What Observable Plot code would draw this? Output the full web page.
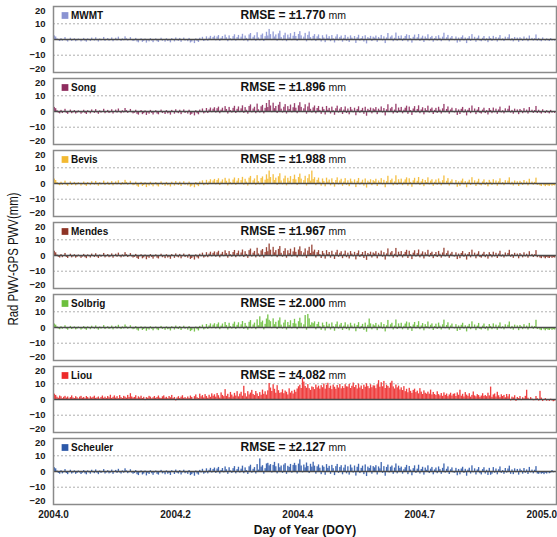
<!DOCTYPE html>
<html><head><meta charset="utf-8">
<script src="https://cdn.jsdelivr.net/npm/d3@7"></script>
<script src="https://cdn.jsdelivr.net/npm/@observablehq/plot@0.6"></script>
<style>body{margin:0;background:#fff;}</style>
</head><body><div id="chart"></div>
<script>
const stations = ["MWMT","Song","Bevis","Mendes","Solbrig","Liou","Scheuler"];
const colors = ["#8a93d2","#8e2c5e","#f3b931","#8e3426","#6cbf3d","#ed2a2a","#2c58a8"];
const rmse = ["±1.770","±1.896","±1.988","±1.967","±2.000","±4.082","±2.127"];
const yTicksMid = [-10,0,10];
const yTickTop = [20];
const yTickBottom = [-20];
const yGrid = [-10,10];
const xTicks = [0, 91.5, 183, 274.5, 366];
const xTickLabels = ["2004.0","2004.2","2004.4","2004.7","2005.0"];
// daily values, DOY 1..376
const mwmt = [
2.3,1.6,0.4,-0.8,-1.3,0.6,-1.1,-0.5,1.2,-0.9,-1.6,-0.4,0.8,-1.2,-0.7,0.5,-1.4,-0.9,0.3,-0.6,
-1.5,-0.8,0.7,-1.1,-1.7,0.4,-0.6,-1.3,0.9,-0.5,-1.0,1.1,-0.8,-1.6,0.3,-0.9,-0.4,1.3,-1.2,-0.6,
0.6,-1.1,-0.7,1.0,-1.4,-0.3,0.8,-0.9,1.5,-0.6,-1.2,0.4,-0.8,1.7,0.5,-1.0,-0.5,1.2,-0.7,-1.3,
-0.9,0.7,-1.6,-2.1,-0.6,0.5,-1.8,-1.2,0.3,-2.3,-0.8,-1.5,0.6,-1.0,-2.0,-0.7,0.4,-1.4,-1.9,-0.5,
0.8,-1.1,-0.6,-1.7,0.5,-1.3,-0.9,-2.1,0.6,-0.4,-1.5,1.0,-0.8,-1.2,0.7,-1.8,-0.6,0.9,-1.0,-0.5,
-1.4,0.7,-2.2,-1.6,-0.7,-2.6,0.4,-1.2,-1.9,0.8,-0.6,1.4,-1.3,-0.8,1.7,-1.1,0.9,2.0,-0.7,1.3,
2.1,-0.9,1.6,2.5,-1.2,0.8,1.9,-0.6,2.8,1.1,-1.4,2.3,0.5,-0.9,1.8,3.0,-1.1,1.2,2.6,-0.7,
1.5,3.3,-1.0,2.2,0.7,-1.5,2.9,3.8,-0.8,1.4,2.4,-1.2,4.3,1.0,-0.9,2.7,3.5,-1.3,1.8,4.6,
2.2,6.4,3.1,-0.7,4.8,1.6,2.9,-1.1,3.6,5.3,1.3,-0.9,2.4,4.0,-1.4,2.8,1.1,3.7,-0.8,2.1,
4.5,1.9,-1.2,3.2,5.0,2.3,-0.6,1.5,3.9,-1.5,2.6,4.8,1.2,-0.9,2.0,3.1,-1.3,1.7,2.9,0.6,
-1.6,2.4,1.0,-2.0,2.9,0.7,1.8,-1.4,2.5,0.4,-2.2,1.6,3.0,-0.9,1.3,2.2,-1.7,0.8,2.6,-1.1,
1.4,-1.9,2.3,0.9,-0.7,1.9,-2.5,1.1,2.7,-1.0,0.6,1.8,-1.6,2.4,-2.8,1.2,0.5,2.0,-1.3,1.5,
0.9,2.2,-1.8,1.3,0.4,2.6,-0.9,1.7,-2.6,1.0,3.8,-0.6,1.5,2.3,-1.4,0.8,4.1,-1.1,2.0,0.6,
2.3,-1.3,0.7,1.9,3.0,-1.6,2.5,0.5,-2.3,1.4,2.8,-0.8,1.1,3.2,-1.2,0.9,2.1,-1.9,1.6,0.4,
3.0,-0.9,1.2,2.0,-1.7,0.6,1.8,-1.0,2.4,0.8,-1.4,1.5,4.0,-0.7,1.1,2.6,-1.5,0.9,1.9,-0.6,
-0.8,1.6,-2.3,0.9,-1.7,1.2,2.3,-0.9,1.0,-2.6,0.7,1.8,-1.2,3.1,-0.5,1.4,-1.8,0.8,2.2,-1.0,
-1.4,0.8,1.9,-1.1,0.5,-2.0,1.7,0.6,-1.2,2.0,-0.7,1.3,-1.6,0.9,2.5,-0.8,0.4,-1.3,1.5,-0.6,
1.2,3.0,-0.9,0.6,-1.5,1.3,-0.4,0.9,-1.8,1.1,0.3,-1.2,1.6,-0.7,0.8,-1.4,2.2,-0.5,0.7,-1.0,
0.5,2.9,-1.1,0.7,-0.9,-1.4,1.0,-0.6,-1.1,0.4,-0.8,-1.3,0.6,-0.9,-0.5,-1.0];
const song = [
2.6,1.8,0.5,-1.0,-1.5,0.7,-1.3,-0.6,1.4,-1.1,-1.8,-0.5,0.9,-1.4,-0.8,0.6,-1.6,-1.0,0.4,-0.7,
-1.7,-0.9,0.8,-1.3,-1.9,0.5,-0.7,-1.5,1.0,-0.6,-1.2,1.2,-0.9,-1.8,0.4,-1.0,-0.5,1.4,-1.4,-0.7,
0.7,-1.3,-0.8,1.1,-1.6,-0.4,0.9,-1.0,1.6,-0.7,-1.4,0.5,-0.9,1.9,0.6,-1.2,-0.6,1.3,-0.8,-1.5,
-1.1,0.8,-1.8,-2.3,-0.7,0.6,-2.0,-1.4,0.4,-2.5,-0.9,-1.7,0.7,-1.2,-2.2,-0.8,0.5,-1.6,-2.1,-0.6,
0.9,-1.3,-0.7,-1.9,0.6,-1.5,-1.0,-2.3,0.7,-0.5,-1.7,1.1,-0.9,-1.4,0.8,-2.0,-0.7,1.0,-1.2,-0.6,
-1.6,0.8,-2.4,-1.8,-0.8,-2.8,0.5,-1.4,-2.1,0.9,-0.7,1.6,-1.5,-0.9,1.9,-1.3,1.0,2.2,-0.8,1.5,
2.4,-1.0,1.8,2.8,-1.4,0.9,2.1,-0.7,3.1,1.3,-1.6,2.6,0.6,-1.0,2.0,3.3,-1.3,1.4,2.9,-0.8,
1.7,3.6,-1.2,2.5,0.8,-1.7,3.2,4.2,-0.9,1.6,2.7,-1.4,4.7,1.1,-1.0,3.0,3.9,-1.5,2.0,5.1,
2.5,7.0,3.5,-0.8,5.3,1.8,3.2,-1.3,4.0,5.8,1.5,-1.0,2.7,4.4,-1.6,3.1,1.3,4.1,-0.9,2.4,
5.0,2.1,-1.4,3.6,5.6,2.6,-0.7,1.7,4.3,-1.7,2.9,5.3,1.4,-1.0,2.3,3.5,-1.5,1.9,3.2,0.7,
-1.8,2.7,1.2,-2.2,3.2,0.8,2.0,-1.6,2.8,0.5,-2.4,1.8,3.4,-1.0,1.5,2.5,-1.9,0.9,2.9,-1.3,
1.6,-2.1,2.6,1.0,-0.8,2.1,-2.7,1.3,3.0,-1.1,0.7,2.0,-1.8,2.7,-3.0,1.4,0.6,2.2,-1.5,1.7,
1.0,2.5,-2.0,1.5,0.5,2.9,-1.0,1.9,-2.8,1.1,4.3,-0.7,1.7,2.6,-1.6,0.9,4.6,-1.3,2.2,0.7,
2.6,-1.5,0.8,2.1,3.4,-1.8,2.8,0.6,-2.5,1.6,3.1,-0.9,1.3,3.6,-1.4,1.0,2.4,-2.1,1.8,0.5,
3.4,-1.0,1.4,2.2,-1.9,0.7,2.0,-1.2,2.7,0.9,-1.6,1.7,4.5,-0.8,1.3,2.9,-1.7,1.0,2.1,-0.7,
-0.9,1.8,-2.5,1.0,-1.9,1.4,2.6,-1.0,1.1,-2.8,0.8,2.0,-1.4,3.5,-0.6,1.6,-2.0,0.9,2.5,-1.2,
-1.6,0.9,2.1,-1.3,0.6,-2.2,1.9,0.7,-1.4,2.2,-0.8,1.5,-1.8,1.0,2.8,-0.9,0.5,-1.5,1.7,-0.7,
1.4,3.4,-1.0,0.7,-1.7,1.5,-0.5,1.0,-2.0,1.3,0.4,-1.4,1.8,-0.8,0.9,-1.6,2.5,-0.6,0.8,-1.2,
0.6,3.2,-1.3,0.8,-1.0,-1.6,1.1,-0.7,-1.3,0.5,-0.9,-1.5,0.7,-1.0,-0.6,-1.2];
const bevis = [
2.8,1.9,0.6,-0.9,-1.4,0.8,-1.2,-0.5,1.5,-1.0,-1.7,-0.4,1.0,-1.3,-0.7,0.7,-1.5,-0.9,0.5,-0.6,
-1.6,-0.8,0.9,-1.2,-1.8,0.6,-0.6,-1.4,1.1,-0.5,-1.1,1.3,-0.8,-1.7,0.5,-0.9,-0.4,1.5,-1.3,-0.6,
0.8,-1.2,-0.7,1.2,-1.5,-0.3,1.0,-0.9,1.7,-0.6,-1.3,0.6,-0.8,2.0,0.7,-1.1,-0.5,1.4,-0.7,-1.4,
-1.0,0.9,-1.7,-2.4,-0.6,0.7,-1.9,-1.3,0.5,-2.6,-0.8,-1.6,0.8,-1.1,-2.1,-0.7,0.6,-1.5,-2.2,-0.5,
1.0,-1.2,-0.6,-1.8,0.7,-1.4,-0.9,-2.2,0.8,-0.4,-1.6,1.2,-0.8,-1.3,0.9,-1.9,-0.6,1.1,-1.1,-0.5,
-1.5,0.9,-2.3,-1.7,-0.7,-2.7,0.6,-1.3,-2.0,1.0,-0.6,1.7,-1.4,-0.8,2.0,-1.2,1.1,2.4,-0.7,1.6,
2.6,-0.9,1.9,3.0,-1.3,1.0,2.3,-0.6,3.3,1.4,-1.5,2.8,0.7,-0.9,2.2,3.5,-1.2,1.5,3.1,-0.7,
1.8,3.9,-1.1,2.7,0.9,-1.6,3.4,4.5,-0.8,1.7,2.9,-1.3,5.0,1.2,-0.9,3.2,4.2,-1.4,2.1,5.5,
2.7,7.9,3.8,-0.7,5.6,1.9,3.4,-1.2,4.3,6.2,1.6,-0.9,2.9,4.7,-1.5,3.3,1.4,4.4,-0.8,2.6,
5.3,2.3,-1.3,3.8,6.0,2.8,-0.6,1.8,4.6,-1.6,3.1,5.6,1.5,7.9,2.5,3.7,-1.4,2.0,3.4,0.8,
-1.7,2.9,1.3,-2.1,3.4,0.9,2.2,-1.5,3.0,0.6,-2.3,1.9,3.6,-0.9,1.6,2.7,-1.8,1.0,3.1,-1.2,
1.7,-2.0,2.8,1.1,-0.7,2.3,-2.6,1.4,3.2,-1.0,0.8,2.1,-1.7,2.9,-2.9,1.5,0.7,2.4,-1.4,1.8,
1.1,2.7,-1.9,1.6,0.6,3.1,-0.9,2.0,-2.7,1.2,4.6,-0.6,1.8,2.8,-1.5,1.0,4.9,-1.2,2.4,0.8,
2.8,-1.4,0.9,2.3,3.6,-1.7,3.0,0.7,-2.4,1.7,3.3,-0.8,1.4,3.8,-1.3,1.1,2.6,-2.0,1.9,0.6,
3.6,-0.9,1.5,2.4,-1.8,0.8,2.2,-1.1,2.9,1.0,-1.5,1.8,4.8,-0.7,1.4,3.1,-1.6,1.1,2.3,-0.6,
-0.8,1.9,-2.4,1.1,-1.8,1.5,2.8,-0.9,1.2,-2.7,0.9,2.1,-1.3,3.7,-0.5,1.7,-1.9,1.0,2.7,-1.1,
-1.5,1.0,2.3,-1.2,0.7,-2.1,2.0,0.8,-1.3,2.4,-0.7,1.6,-1.7,1.1,3.0,-0.8,0.6,-1.4,1.8,-0.6,
1.5,3.6,-0.9,0.8,-1.6,1.6,-0.4,1.1,-1.9,1.4,0.5,-1.3,1.9,-0.7,1.0,-1.5,2.7,-0.5,0.9,-1.1,
0.7,3.4,-1.2,-0.8,-1.5,-1.9,-0.6,-1.4,-2.0,-1.1,-1.6,-1.8,-0.9,-1.7,-1.3,-1.5];
const mendes = [
2.7,1.7,0.3,-1.1,-1.6,0.6,-1.4,-0.7,1.3,-1.2,-1.9,-0.6,0.8,-1.5,-0.9,0.5,-1.7,-1.1,0.3,-0.8,
-1.8,-1.0,0.7,-1.4,-2.0,0.4,-0.8,-1.6,0.9,-0.7,-1.3,1.1,-1.0,-1.9,0.3,-1.1,-0.6,1.3,-1.5,-0.8,
0.6,-1.4,-0.9,1.0,-1.7,-0.5,0.8,-1.1,1.5,-0.8,-1.5,0.4,-1.0,1.8,0.5,-1.3,-0.7,1.2,-0.9,-1.6,
-1.2,0.7,-1.9,-2.5,-0.8,0.5,-2.1,-1.5,0.3,-2.7,-1.0,-1.8,0.6,-1.3,-2.3,-0.9,0.4,-1.7,-2.2,-0.7,
0.8,-1.4,-0.8,-2.0,0.5,-1.6,-1.1,-2.4,0.6,-0.6,-1.8,1.0,-1.0,-1.5,0.7,-2.1,-0.8,0.9,-1.3,-0.7,
-1.7,0.7,-2.5,-1.9,-0.9,-2.9,0.4,-1.5,-2.2,0.8,-0.8,1.5,-1.6,-1.0,1.8,-1.4,0.9,2.1,-0.9,1.4,
2.3,-1.1,1.7,2.7,-1.5,0.8,2.0,-0.8,3.0,1.2,-1.7,2.5,0.5,-1.1,1.9,3.2,-1.4,1.3,2.8,-0.9,
1.6,3.5,-1.3,2.4,0.7,-1.8,3.1,4.1,-1.0,1.5,2.6,-1.5,4.6,1.0,-1.1,2.9,3.8,-1.6,1.9,5.0,
2.4,7.3,3.4,-0.9,5.2,1.7,3.1,-1.4,3.9,5.7,1.4,-1.1,2.6,4.3,-1.7,3.0,1.2,4.0,-1.0,2.3,
4.9,2.0,-1.5,3.5,5.5,2.5,-0.8,1.6,4.2,-1.8,2.8,5.2,1.3,6.6,2.2,3.4,-1.6,1.8,3.1,0.6,
-1.9,2.6,1.1,-2.3,3.1,0.7,1.9,-1.7,2.7,0.4,-2.5,1.7,3.3,-1.1,1.4,2.4,-2.0,0.8,2.8,-1.4,
1.5,-2.2,2.5,0.9,-0.9,2.0,-2.8,1.2,2.9,-1.2,0.6,1.9,-1.9,2.6,-3.1,1.3,0.5,2.1,-1.6,1.6,
0.9,2.4,-2.1,1.4,0.4,2.8,-1.1,1.8,-2.9,1.0,4.2,-0.8,1.6,2.5,-1.7,0.8,4.5,-1.4,2.1,0.6,
2.5,-1.6,0.7,2.0,3.3,-1.9,2.7,0.5,-2.6,1.5,3.0,-1.0,1.2,3.5,-1.5,0.9,2.3,-2.2,1.7,0.4,
3.3,-1.1,1.3,2.1,-2.0,0.6,1.9,-1.3,2.6,0.8,-1.7,1.6,4.6,-0.9,1.2,2.8,-1.8,0.9,2.0,-0.8,
-1.0,1.7,-2.6,0.9,-2.0,1.3,2.5,-1.1,1.0,-2.9,0.7,1.9,-1.5,3.4,-0.7,1.5,-2.1,0.8,2.4,-1.3,
-1.7,0.8,2.0,-1.4,0.5,-2.3,1.8,0.6,-1.5,2.1,-0.9,1.4,-1.9,0.9,2.7,-1.0,0.4,-1.6,1.6,-0.8,
1.3,3.3,-1.1,0.6,-1.8,1.4,-0.6,0.9,-2.1,1.2,0.3,-1.5,1.7,-0.9,0.8,-1.7,2.4,-0.7,0.7,-1.3,
0.5,3.1,-1.4,-0.7,-1.6,-2.0,-0.8,-1.5,-2.1,-1.2,-1.7,-1.9,-1.0,-1.8,-1.4,-1.6];
const solbrig = [
2.2,1.5,0.4,-0.9,-1.4,0.5,-1.1,-0.6,1.1,-1.0,-1.7,-0.5,0.7,-1.3,-0.8,0.4,-1.5,-1.0,0.3,-0.7,
-1.6,-0.9,0.6,-1.2,-1.8,0.4,-0.7,-1.4,0.8,-0.6,-1.1,1.0,-0.9,-1.7,0.3,-1.0,-0.5,1.2,-1.3,-0.7,
0.5,-1.2,-0.8,0.9,-1.5,-0.4,0.7,-1.0,1.4,-0.7,-1.3,0.4,-0.9,1.6,0.4,-1.1,-0.6,1.1,-0.8,-1.4,
-1.0,0.6,-1.7,-2.3,-0.7,0.4,-1.9,-1.3,0.3,-2.4,-0.9,-1.6,0.5,-1.1,-2.1,-0.8,0.3,-1.5,-2.0,-0.6,
0.7,-1.2,-0.7,-1.8,0.4,-1.4,-1.0,-2.2,0.5,-0.5,-1.6,0.9,-0.9,-1.3,0.6,-1.9,-0.7,0.8,-1.1,-0.6,
-1.7,0.6,-2.6,-2.0,-0.8,-2.9,0.3,-1.4,-2.2,0.7,-0.7,1.5,-1.5,-0.9,1.9,-1.2,1.0,2.3,-0.8,1.5,
2.4,-1.0,1.8,2.9,-1.4,0.9,2.2,-0.7,3.2,1.3,-1.6,2.7,0.6,-1.0,2.1,3.4,-1.3,1.4,3.0,-0.8,
1.7,3.8,-1.2,2.6,0.8,-1.7,3.3,4.4,-0.9,1.6,2.8,-1.4,4.9,1.1,6.8,3.1,4.1,-1.5,2.0,5.4,
8.0,4.6,3.7,-0.8,5.5,1.8,3.3,-1.3,4.2,6.1,1.5,-1.0,2.8,4.6,-1.6,3.2,1.3,4.3,-0.9,2.5,
5.2,2.2,-1.4,3.7,5.9,2.7,-0.7,1.7,7.6,-1.7,8.3,5.5,1.4,3.0,2.4,3.6,-1.5,1.9,3.3,0.7,
-1.8,2.8,1.2,-2.2,3.3,0.8,2.1,-1.6,2.9,0.5,-2.4,1.8,3.5,-1.0,1.5,2.6,-1.9,0.9,3.0,-1.3,
1.6,-2.1,2.7,1.0,-0.8,2.2,-2.7,1.3,3.1,-1.1,0.7,2.0,-1.8,2.8,-3.0,1.4,5.4,2.3,-1.5,1.7,
1.0,2.6,-2.0,1.5,0.5,3.0,-1.0,1.9,-2.8,1.1,4.5,-0.7,1.7,2.7,-1.6,0.9,4.8,-1.3,2.3,0.7,
2.7,-1.5,0.8,2.2,3.5,-1.8,2.9,0.6,-2.5,1.6,3.2,-0.9,1.3,3.7,-1.4,1.0,2.5,-2.1,1.8,0.5,
3.5,-1.0,1.4,2.3,-1.9,0.7,2.1,-1.2,2.8,0.9,-1.6,1.7,4.7,-0.8,1.3,3.0,-1.7,1.0,2.2,-0.7,
-0.9,1.8,-2.5,1.0,-1.9,1.4,2.7,-1.0,1.1,-2.8,0.8,2.0,-1.4,3.6,-0.6,1.6,-2.0,0.9,2.6,-1.2,
-1.6,0.9,2.2,-1.3,0.6,-2.2,1.9,0.7,-1.4,2.3,-0.8,1.5,-1.8,1.0,2.9,-0.9,0.5,-1.5,1.7,-0.7,
1.4,3.5,-1.0,0.7,-1.7,1.5,-0.5,1.0,-2.0,1.3,0.4,-1.4,1.8,-0.8,0.9,-1.6,2.6,-0.6,0.8,-1.2,
0.6,4.6,-1.3,-0.8,-1.6,-2.0,-0.7,-1.5,-2.1,-1.2,-1.7,-1.9,-1.0,-1.8,-1.4,-1.6];
const liou = [
3.4,2.6,1.5,0.8,2.2,1.7,0.5,1.4,2.0,0.9,1.6,0.4,1.2,2.3,1.0,0.6,1.8,1.1,0.3,1.5,
2.0,0.8,1.3,0.5,1.9,1.2,0.4,1.7,0.9,1.4,2.1,0.7,1.0,1.6,0.3,1.3,2.2,0.8,1.5,0.6,
1.9,1.1,2.7,0.7,1.4,2.3,0.9,1.8,0.5,2.5,1.2,0.6,2.0,1.5,0.8,2.6,1.3,3.7,1.6,0.9,
1.3,2.4,0.5,1.7,1.0,2.1,0.6,1.4,-0.7,1.2,0.8,2.0,1.5,0.4,1.1,1.9,0.7,1.3,2.2,0.9,
0.6,1.7,2.3,0.9,1.4,0.5,1.9,1.1,2.6,0.7,1.3,-0.9,1.0,1.8,0.6,1.5,2.4,0.8,1.2,0.4,
1.6,0.7,2.2,1.3,-0.5,1.8,2.9,1.1,0.6,3.4,1.7,2.5,1.0,3.1,1.9,0.8,2.7,1.4,3.6,2.1,
3.0,1.5,3.8,2.4,0.9,4.2,2.6,1.8,6.3,2.0,3.3,1.2,4.5,2.8,1.6,3.9,2.2,5.0,1.7,3.4,
4.6,2.1,8.4,3.7,1.6,5.0,2.9,4.1,5.8,3.2,2.5,5.1,3.6,1.9,4.4,2.7,6.0,3.3,4.9,2.8,
5.5,10.2,7.3,5.1,9.4,6.5,4.0,8.8,5.6,3.9,4.3,6.2,3.7,5.4,4.6,2.9,6.8,4.1,5.2,3.5,
5.9,4.6,6.7,8.1,9.1,7.0,13.6,11.1,8.3,7.2,9.5,6.9,5.8,8.0,7.6,6.3,9.2,7.4,8.5,6.6,
8.8,7.5,9.9,6.6,9.0,10.3,7.1,8.5,6.3,9.2,7.8,6.5,8.9,7.3,9.6,6.8,8.2,7.0,9.4,8.1,
7.9,9.6,7.0,8.4,10.5,7.6,8.9,6.7,9.8,7.3,8.6,6.4,9.1,7.8,10.0,8.2,6.9,9.4,7.5,8.7,
8.6,6.9,9.4,12.0,7.8,10.7,8.1,11.5,7.0,9.1,8.3,7.2,10.4,11.6,8.0,6.7,9.2,7.4,8.5,6.1,
7.4,5.7,8.2,5.0,6.5,4.3,7.1,5.2,3.9,5.8,6.6,4.4,5.3,3.6,6.9,4.7,3.2,5.5,4.0,3.4,
4.7,3.4,6.0,2.9,4.5,3.2,2.5,4.9,3.1,2.3,3.8,2.0,4.2,2.6,3.5,1.8,2.9,4.0,2.2,3.3,
3.6,1.9,4.2,2.7,5.9,2.1,3.3,1.6,4.4,2.8,2.0,3.7,1.5,2.6,4.8,2.3,1.7,3.1,2.5,1.4,
2.2,3.7,2.0,2.5,1.8,4.0,2.3,7.9,1.4,2.9,3.5,1.6,4.6,2.4,1.2,3.0,1.9,2.6,1.1,3.2,
1.7,3.1,-0.9,1.5,1.0,2.4,-1.2,1.3,0.6,1.9,-0.7,1.1,0.4,2.0,5.9,0.8,-0.5,1.2,0.3,-0.8,
-0.7,1.9,0.5,-1.0,5.2,0.9,-1.3,-0.5,0.6,-1.1,-0.4,-1.2,0.2,-0.9,-1.4,-1.0];
const scheuler = [
2.4,1.7,0.3,-1.2,-1.7,0.5,-1.5,-0.8,1.2,-1.3,-2.0,-0.7,0.8,-1.6,-1.0,0.4,-1.8,-1.2,0.3,-0.9,
-1.9,-1.1,0.6,-1.5,-2.1,0.4,-0.9,-1.7,0.8,-0.8,-1.4,1.0,-1.1,-2.0,0.3,-1.2,-0.7,1.2,-1.6,-0.9,
0.5,-1.5,-1.0,0.9,-1.8,-0.6,0.7,-1.2,1.4,-0.9,-1.6,0.4,-1.1,1.7,0.4,-1.4,-0.8,1.1,-1.0,-1.7,
-1.3,0.6,-2.0,-2.6,-0.9,0.4,-2.2,-1.6,0.3,-2.8,-1.1,-1.9,0.5,-1.4,-2.4,-1.0,0.3,-1.8,-2.3,-0.8,
0.7,-1.5,-0.9,-2.1,0.4,-1.7,-1.2,-2.5,0.5,-0.7,-1.9,0.9,-1.1,-1.6,0.6,-2.2,-0.9,0.8,-1.4,-0.8,
-1.8,0.6,-2.6,-2.0,-1.0,-3.0,0.3,-1.6,-2.3,0.7,-0.9,1.4,-1.7,-1.1,1.7,-1.5,0.8,2.0,-1.0,1.3,
2.2,-1.2,1.6,2.6,-1.6,0.7,1.9,-0.9,2.9,1.1,-1.8,2.4,0.4,-1.2,1.8,3.1,-1.5,1.2,2.7,-1.0,
1.5,3.4,-1.4,2.3,0.6,-1.9,3.0,4.0,-1.1,1.4,2.5,-1.6,4.4,0.9,8.0,2.8,3.7,-1.7,1.8,4.8,
5.2,3.6,4.4,-1.0,3.9,5.8,3.0,-1.5,4.9,2.4,3.5,-1.2,4.1,5.0,-1.8,3.3,2.6,4.5,-1.1,3.9,
5.2,3.7,-1.6,4.7,7.4,3.5,-0.9,4.1,2.3,5.4,3.2,-1.3,4.6,2.8,5.9,3.4,-1.7,3.0,4.2,2.1,
-2.0,3.6,2.7,-2.4,4.4,2.0,3.3,-1.8,3.9,1.8,-2.6,3.1,4.5,-1.2,2.6,3.7,-2.1,2.2,4.0,-1.5,
3.0,-2.3,4.1,2.2,-1.0,3.5,-2.9,2.7,4.6,-1.3,2.0,3.4,-2.0,4.2,-3.2,2.8,1.9,3.6,-1.7,3.1,
2.3,3.7,-2.2,2.9,1.7,5.7,-1.2,3.1,-3.0,2.6,4.1,-0.9,2.7,3.5,-1.8,2.2,4.8,-1.5,3.4,1.9,
2.8,-1.7,1.1,2.4,3.9,-2.0,3.2,0.9,-2.7,1.8,3.6,-1.2,1.5,4.0,-1.6,1.3,2.7,-2.3,2.2,0.8,
3.6,-1.3,1.5,2.6,-2.1,1.0,2.2,-1.4,2.9,1.2,-1.8,2.0,4.8,-1.0,1.4,2.9,-1.9,1.1,2.3,-0.9,
-1.1,2.0,-2.7,1.3,-2.1,1.6,2.7,-1.2,1.4,-3.0,0.9,2.1,-1.6,3.6,-0.8,1.7,-2.2,1.0,2.5,-1.4,
-2.2,1.2,2.4,-1.6,0.8,-2.5,2.0,-2.4,-1.7,2.5,-1.1,1.6,-2.1,1.1,2.9,-1.2,0.6,-1.8,1.9,-1.0,
1.6,3.4,-1.8,1.0,-2.0,1.7,-0.8,1.3,-2.3,1.5,0.5,-1.7,1.9,-1.1,1.0,-1.9,2.6,-0.9,0.9,-1.5,
0.8,3.1,-1.6,-1.8,-0.9,-1.7,-1.3,-2.0,-1.1,-1.6,-0.7,-1.4,-1.0,0.6,-0.8,-0.5];

const seriesList = [mwmt, song, bevis, mendes, solbrig, liou, scheuler];
const rows = stations.flatMap((s, k) => seriesList[k].map((v, i) => ({station: s, doy: i + 1, value: v})));
const labels = stations.map((s, k) => ({station: s, rmse: rmse[k]}));

const font = "'Liberation Sans', Arial, Helvetica, sans-serif";
const axisStyle = {tickSize: 0, tickPadding: 8, fontWeight: "bold", fontSize: 9.5, label: null};
const plot = Plot.plot({
  width: 557, height: 537,
  marginTop: 5, marginBottom: 32, marginLeft: 53, marginRight: 1,
  style: {fontFamily: font, background: "#fff", color: "#1a1a1a"},
  x: {domain: [0, 377]},
  y: {domain: [-21, 21]},
  fy: {domain: stations, paddingInner: 0.09, paddingOuter: 0, axis: null, label: null},
  color: {domain: stations, range: colors},
  marks: [
    Plot.gridY(yGrid, {stroke: "#9a9a9a", strokeOpacity: 1, strokeDasharray: "2,2", strokeWidth: 0.8}),
    Plot.rectY(rows, {fy: "station", x1: d => d.doy - 0.5, x2: d => d.doy + 0.5, y: "value", fill: "station", fillOpacity: 0.9}),
    Plot.ruleY([0], {stroke: "#4a4a4a", strokeWidth: 1.3}),
    Plot.frame({stroke: "#8a8a8a", strokeWidth: 1.5}),
    Plot.axisY(yTicksMid, axisStyle),
    Plot.axisY(yTickTop, {...axisStyle, dy: 3}),
    Plot.axisY(yTickBottom, {...axisStyle, dy: -1.5}),
    Plot.axisX(xTicks, {tickSize: 0, tickPadding: 6, tickFormat: d => xTickLabels[xTicks.indexOf(d)], fontWeight: "bold", fontSize: 10, label: null}),
    Plot.dot(labels, {fy: "station", frameAnchor: "top-left", dx: 11.5, dy: 9, symbol: "square", r: 3.8, fill: "station"}),
    Plot.text(labels, {fy: "station", frameAnchor: "top-left", dx: 17.5, dy: 9, lineAnchor: "middle", text: "station", textAnchor: "start", fontWeight: "bold", fontSize: 10, fill: "#111"}),
    Plot.text(labels, {fy: "station", frameAnchor: "top-left", dx: 272, dy: 9, lineAnchor: "middle", text: d => "RMSE = " + d.rmse, textAnchor: "end", fontWeight: "bold", fontSize: 12, fill: "#111"}),
    Plot.text(labels, {fy: "station", frameAnchor: "top-left", dx: 275, dy: 9.5, lineAnchor: "middle", text: d => "mm", textAnchor: "start", fontSize: 10.5, fill: "#111"})
  ]
});
document.getElementById("chart").appendChild(plot);
const svg = d3.select(plot);
svg.append("text").attr("transform", "translate(18,259) rotate(-90)")
  .attr("text-anchor", "middle").attr("font-size", 14).attr("font-family", font)
  .attr("fill", "#111").attr("textLength", 133).attr("lengthAdjust", "spacingAndGlyphs")
  .text("Rad PWV-GPS PWV(mm)");
svg.append("text").attr("x", 305).attr("y", 534)
  .attr("text-anchor", "middle").attr("font-size", 12).attr("font-weight", "bold").attr("font-family", font)
  .attr("fill", "#111").text("Day of Year (DOY)");
</script>
</body></html>
